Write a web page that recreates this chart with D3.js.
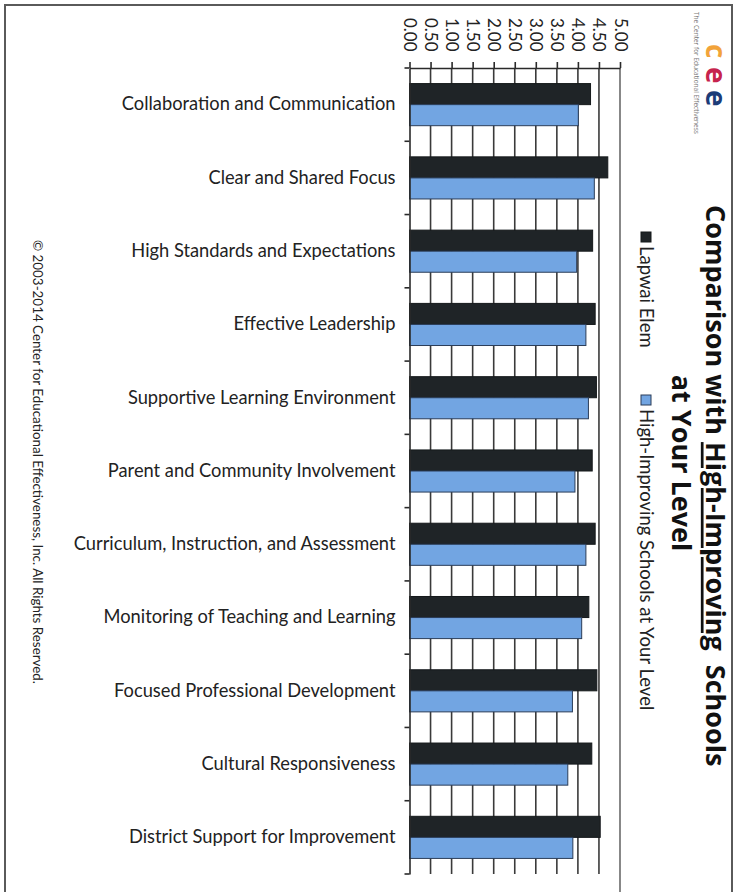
<!DOCTYPE html>
<html>
<head>
<meta charset="utf-8">
<script src="https://cdn.jsdelivr.net/npm/d3@7"></script>
<style>
  html, body { margin: 0; padding: 0; background: #fff; }
  svg { display: block; }
</style>
</head>
<body>
<script>
// Category scores, one entry per effectiveness characteristic
const categories = [
  "Collaboration and Communication",
  "Clear and Shared Focus",
  "High Standards and Expectations",
  "Effective Leadership",
  "Supportive Learning Environment",
  "Parent and Community Involvement",
  "Curriculum, Instruction, and Assessment",
  "Monitoring of Teaching and Learning",
  "Focused Professional Development",
  "Cultural Responsiveness",
  "District Support for Improvement"
];
const lapwaiElem = [4.30, 4.71, 4.35, 4.41, 4.44, 4.34, 4.41, 4.26, 4.45, 4.33, 4.53];
const highImproving = [4.01, 4.39, 3.97, 4.19, 4.25, 3.93, 4.19, 4.09, 3.87, 3.76, 3.88];
const seriesNames = ["Lapwai Elem", "High-Improving Schools at Your Level"];
const valueTicks = [0, 0.5, 1, 1.5, 2, 2.5, 3, 3.5, 4, 4.5, 5];

const W = 736, H = 892;
const colors = { "Lapwai Elem": "#1f2427", "High-Improving Schools at Your Level": "#72a5e2" };
const strokes = { "Lapwai Elem": "#15191b", "High-Improving Schools at Your Level": "#2b3d58" };
const labelFont = "Lato, 'Open Sans', sans-serif";

const svg = d3.select("body").append("svg").attr("width", W).attr("height", H);

// page frame
svg.append("path")
  .attr("d", `M5,${H} L5,5 L732,5 L732,${H}`)
  .attr("fill", "none").attr("stroke", "#5a5a5a").attr("stroke-width", 2);

const x = d3.scaleLinear().domain([0, 5]).range([409.5, 620]);
const y = d3.scaleBand().domain(categories).range([68, 874]).padding(0);
const ySub = d3.scaleBand().domain(seriesNames).range([0, y.bandwidth()])
  .paddingInner(0).paddingOuter(0.74);

// vertical gridlines
svg.append("g").selectAll("line")
  .data(valueTicks.filter(d => d > 0))
  .join("line")
  .attr("x1", d => x(d)).attr("x2", d => x(d))
  .attr("y1", 68).attr("y2", d => d === 5 ? H : y.range()[1])
  .attr("stroke", d => d === 5 ? "#6a6a6a" : "#3a3a3a")
  .attr("stroke-width", 1.6);

// bars
const rows = categories.map((c, i) => ({
  cat: c,
  values: [
    { series: seriesNames[0], value: lapwaiElem[i] },
    { series: seriesNames[1], value: highImproving[i] }
  ]
}));

svg.append("g").selectAll("g")
  .data(rows)
  .join("g")
  .attr("transform", d => `translate(0,${y(d.cat)})`)
  .selectAll("rect")
  .data(d => d.values)
  .join("rect")
  .attr("x", x(0))
  .attr("y", d => ySub(d.series))
  .attr("width", d => x(d.value) - x(0))
  .attr("height", ySub.bandwidth())
  .attr("fill", d => colors[d.series])
  .attr("stroke", d => strokes[d.series])
  .attr("stroke-width", 1);

// value axis along the top, labels turned to read downward
const xAxis = svg.append("g")
  .attr("transform", "translate(0,68)")
  .call(d3.axisTop(x).tickValues(valueTicks).tickFormat(d3.format(".2f")).tickSize(6).tickSizeOuter(0));
xAxis.select(".domain").attr("stroke", "#2a2a2a").attr("stroke-width", 1.6);
xAxis.selectAll(".tick line").attr("stroke", "#2a2a2a").attr("stroke-width", 1.6);
xAxis.selectAll(".tick text")
  .attr("y", 0).attr("dy", "0.35em")
  .attr("transform", "translate(0,-50) rotate(90)")
  .attr("text-anchor", "start")
  .attr("fill", "#222")
  .style("font-family", labelFont)
  .style("font-size", "17px");

// category axis
const yAxis = svg.append("g")
  .attr("transform", `translate(${x(0)},0)`)
  .call(d3.axisLeft(y).tickSize(0).tickPadding(14).tickSizeOuter(0));
yAxis.select(".domain").attr("stroke", "#2a2a2a").attr("stroke-width", 1.6);
yAxis.selectAll(".tick text")
  .attr("fill", "#222")
  .style("font-family", labelFont)
  .style("font-size", "18.3px");

// boundary ticks between categories
svg.append("g").selectAll("line")
  .data(categories.map(c => y(c)).concat([y.range()[1]]))
  .join("line")
  .attr("x1", x(0) - 5).attr("x2", x(0))
  .attr("y1", d => d).attr("y2", d => d)
  .attr("stroke", "#2a2a2a").attr("stroke-width", 1.6);

// title, turned to read downward
const title = svg.append("g").attr("transform", "translate(715,205) rotate(90)");
const t1 = title.append("text")
  .attr("x", 0).attr("y", 0).attr("dy", "0.35em")
  .attr("xml:space", "preserve")
  .style("white-space", "pre")
  .style("font-family", "'Open Sans', Lato, sans-serif")
  .style("font-weight", "bold").style("font-size", "27px").attr("fill", "#111");
t1.append("tspan").text("Comparison with ");
t1.append("tspan").text("High-Improving").style("text-decoration", "underline");
t1.append("tspan").text("  Schools");
title.append("text")
  .attr("x", 258).attr("y", 34).attr("dy", "0.35em")
  .attr("text-anchor", "middle")
  .style("font-family", "'Open Sans', Lato, sans-serif")
  .style("font-weight", "bold").style("font-size", "27px").attr("fill", "#111")
  .text("at Your Level");

// legend
const legendPos = [232, 395];
const legend = svg.append("g").selectAll("g")
  .data(seriesNames)
  .join("g")
  .attr("transform", (d, i) => `translate(646,${legendPos[i]}) rotate(90)`);
legend.append("rect")
  .attr("x", 0).attr("y", -5).attr("width", 10).attr("height", 10)
  .attr("fill", d => colors[d]).attr("stroke", d => strokes[d]);
legend.append("text")
  .attr("x", 14).attr("y", 0).attr("dy", "0.35em")
  .style("font-family", labelFont).style("font-size", "18.5px").attr("fill", "#222")
  .text(d => d);

// copyright line
svg.append("text")
  .attr("transform", "translate(38,240) rotate(90)")
  .attr("dy", "0.35em")
  .style("font-family", labelFont).style("font-size", "13.4px").attr("fill", "#222")
  .text("© 2003-2014 Center for Educational Effectiveness, Inc. All Rights Reserved.");

// organisation mark
const logo = svg.append("g").attr("transform", "translate(714,44) rotate(90)");
const letters = [
  { ch: "c", color: "#f2a33a" },
  { ch: "e", color: "#c6234d" },
  { ch: "e", color: "#1c3c78" }
];
logo.selectAll("text")
  .data(letters)
  .join("text")
  .attr("x", (d, i) => i * 23).attr("y", 0).attr("dy", "0.3em")
  .style("font-family", "'Open Sans', sans-serif").style("font-weight", "bold")
  .style("font-size", "28px").attr("fill", d => d.color)
  .text(d => d.ch);
svg.append("text")
  .attr("transform", "translate(696,12) rotate(90)")
  .attr("dy", "0.35em")
  .style("font-family", "'Open Sans', sans-serif").style("font-size", "6.5px").attr("fill", "#777")
  .text("The Center for Educational Effectiveness");
</script>
</body>
</html>
